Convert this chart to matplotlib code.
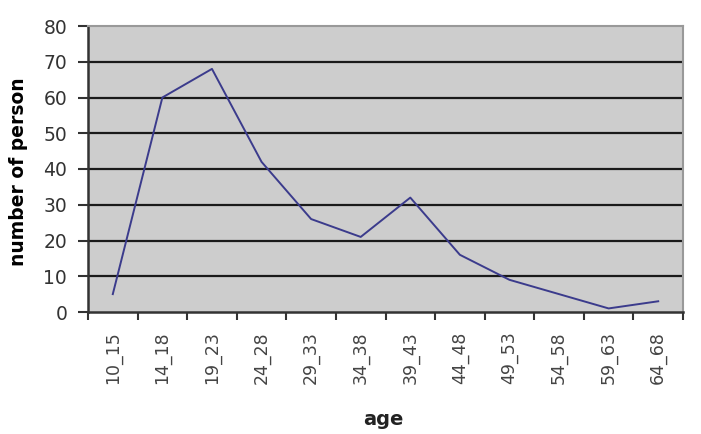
import matplotlib
matplotlib.use("Agg")
import matplotlib.pyplot as plt
import numpy as np

categories = ["10_15", "14_18", "19_23", "24_28", "29_33", "34_38",
              "39_43", "44_48", "49_53", "54_58", "59_63", "64_68"]
persons = [5, 60, 68, 42, 26, 21, 32, 16, 9, 5, 1, 3]
y_ticks = [0, 10, 20, 30, 40, 50, 60, 70, 80]

fig = plt.figure(figsize=(7.01, 4.34), dpi=100)
ax = fig.add_axes([88/701, 1-312/434, (683-88)/701, (312-26)/434])
ax.set_facecolor("#cdcdcd")

x = np.arange(len(categories))
for yv in y_ticks[1:-1]:
    ax.axhline(yv, color="#1a1a1a", lw=1.6, zorder=1)
ax.plot(x, persons, color="#3b3b8c", lw=1.4, zorder=3)

ax.set_xlim(-0.5, len(categories) - 0.5)
ax.set_ylim(0, 80)
ax.set_yticks(y_ticks)
ax.set_yticklabels([str(v) for v in y_ticks], fontsize=13.5, color="#333333")
ax.set_xticks(np.arange(len(categories) + 1) - 0.5)
ax.set_xticklabels([])
ax.set_xticks(x, minor=True)
ax.set_xticklabels(categories, minor=True, rotation=90, fontsize=12.5, color="#444444")
ax.tick_params(axis="x", which="minor", length=0, pad=14)
ax.tick_params(axis="x", which="major", length=6, width=1.5, color="#333333")
ax.tick_params(axis="y", length=7, width=1.5, color="#333333", pad=8)

for side in ["top", "right"]:
    ax.spines[side].set_color("#999999")
    ax.spines[side].set_linewidth(1.5)
for side in ["left", "bottom"]:
    ax.spines[side].set_color("#333333")
    ax.spines[side].set_linewidth(1.8)

ax.set_ylabel("number of person", fontsize=13.5, fontweight="bold")
ax.yaxis.set_label_coords(-0.1, 0.49)
ax.set_xlabel("age", fontsize=14, fontweight="bold", color="#222222")
ax.xaxis.set_label_coords(0.497, -0.343)

fig.savefig("out.png", dpi=100)
